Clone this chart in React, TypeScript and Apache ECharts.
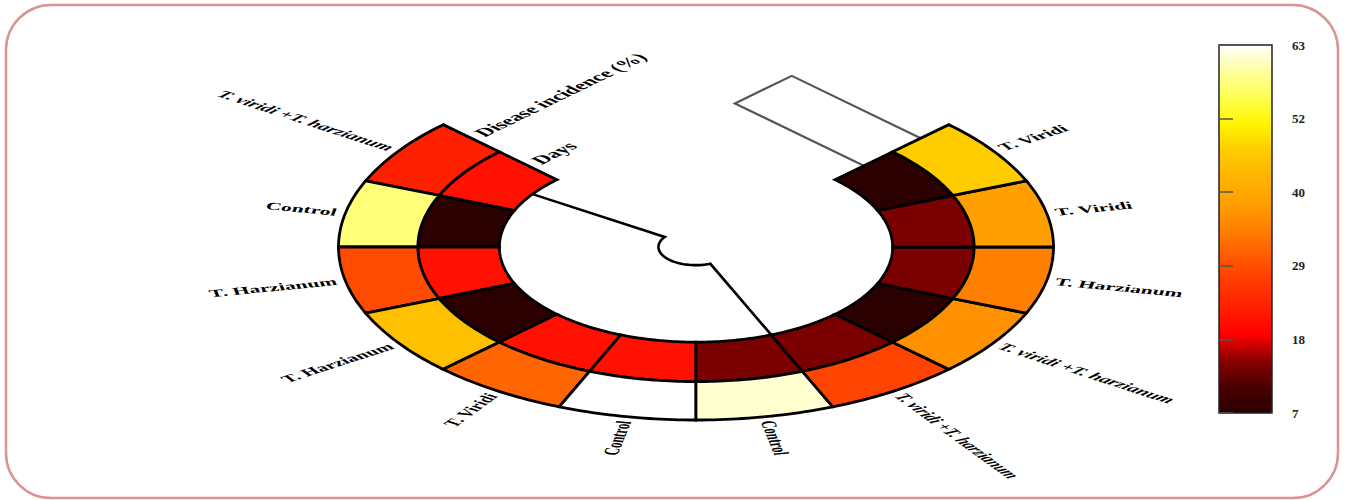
import React, { useEffect, useRef } from "react";
import * as echarts from "echarts";

// Treatments around the ring, in drawing order (counter-clockwise from the upper left)
const treatments = [
  "T. viridi +T. harzianum",
  "Control",
  "T. Harzianum",
  "T. Harzianum",
  "T. Viridi",
  "Control",
  "Control",
  "T. viridi +T. harzianum",
  "T. viridi +T. harzianum",
  "T. Harzianum",
  "T. Viridi",
  "T. Viridi",
];

// Outer track
const diseaseIncidence = [23, 57, 29, 45, 32, 63, 61, 28, 37, 35, 39, 47];
// Inner track
const days = [21, 7, 21, 7, 21, 21, 14, 14, 7, 14, 14, 7];

const trackNames = ["Days", "Disease incidence (%)"];
const scaleTickLabels = ["7", "18", "29", "40", "52", "63"];

const heatColors = [
  "#2b0000", "#4a0000", "#8b0000", "#ff0000", "#ff2000", "#ff3a00", "#ff5c00",
  "#ff8000", "#ffa000", "#ffb400", "#ffcc00", "#fff500", "#ffff50", "#ffffa0", "#ffffff",
];

const START_ANGLE = 135; // degrees, counter-clockwise from +x
const SPAN = 270;
const RING_EDGES = [0.55, 0.778, 1];
const FONT = '"Liberation Serif", "Times New Roman", serif';

const step = SPAN / treatments.length;

function polar(r: number, deg: number): number[] {
  const a = (deg * Math.PI) / 180;
  return [r * Math.cos(a), r * Math.sin(a)];
}

function stretchOf(api: any): number {
  const o = api.coord([0, 0]);
  const px = api.coord([1, 0]);
  const py = api.coord([0, 1]);
  return (px[0] - o[0]) / (o[1] - py[1]);
}

const cellData: number[][] = [];
days.forEach((v, i) => cellData.push([i, 0, v]));
diseaseIncidence.forEach((v, i) => cellData.push([i, 1, v]));

function renderCell(_params: any, api: any) {
  const i = api.value(0);
  const k = api.value(1);
  const a0 = START_ANGLE + step * i;
  const a1 = a0 + step;
  const r0 = RING_EDGES[k];
  const r1 = RING_EDGES[k + 1];
  const n = 24;
  const pts: number[][] = [];
  for (let s = 0; s <= n; s++) pts.push(api.coord(polar(r1, a0 + ((a1 - a0) * s) / n)));
  for (let s = n; s >= 0; s--) pts.push(api.coord(polar(r0, a0 + ((a1 - a0) * s) / n)));
  return {
    type: "polygon",
    shape: { points: pts },
    style: { fill: api.visual("color"), stroke: "#000", lineWidth: 2.8, lineJoin: "miter" },
  };
}

function renderSectorLabel(params: any, api: any) {
  const i = params.dataIndex;
  const name = treatments[i];
  const mid = START_ANGLE + step * (i + 0.5);
  const [px, py] = api.coord(polar(1.025, mid));
  const rad = (mid * Math.PI) / 180;
  const right = Math.cos(rad) > 0;
  return {
    type: "group",
    x: px,
    y: py,
    scaleX: stretchOf(api),
    children: [
      {
        type: "text",
        rotation: right ? rad : rad - Math.PI,
        style: {
          text: name,
          x: 0,
          y: 0,
          align: right ? "left" : "right",
          verticalAlign: "middle",
          fontFamily: FONT,
          fontWeight: "bold",
          fontStyle: name.indexOf("+") >= 0 ? "italic" : "normal",
          fontSize: 10.5,
          fill: "#000",
        },
      },
    ],
  };
}

function renderTrackLabel(params: any, api: any) {
  const k = params.dataIndex;
  const rMid = (RING_EDGES[k] + RING_EDGES[k + 1]) / 2;
  const base = polar(rMid, START_ANGLE);
  const t = (START_ANGLE * Math.PI) / 180;
  const dir = [Math.sin(t), -Math.cos(t)];
  const [px, py] = api.coord([base[0] + 0.03 * dir[0], base[1] + 0.03 * dir[1]]);
  return {
    type: "group",
    x: px,
    y: py,
    scaleX: stretchOf(api),
    children: [
      {
        type: "text",
        rotation: Math.atan2(dir[1], dir[0]),
        style: {
          text: trackNames[k],
          x: 0,
          y: 0,
          align: "left",
          verticalAlign: "middle",
          fontFamily: FONT,
          fontWeight: "bold",
          fontSize: 12,
          fill: "#000",
        },
      },
    ],
  };
}

// Row dendrogram: two branches joined by an arc near the centre
const rowBranchPositions = [0.5, 7]; // in sector units from the start angle
const ROW_JOIN_R = 0.105;
// Column dendrogram: one leaf per track, leaving the end of the ring
const COL_LEAF_LEN = 0.51;

function renderTrees(_params: any, api: any) {
  const inner = RING_EDGES[0];
  const aA = START_ANGLE + step * rowBranchPositions[0];
  const aB = START_ANGLE + step * rowBranchPositions[1];
  const rowPts: number[][] = [api.coord(polar(inner, aA))];
  const n = 60;
  for (let s = 0; s <= n; s++) rowPts.push(api.coord(polar(ROW_JOIN_R, aA + ((aB - aA) * s) / n)));
  rowPts.push(api.coord(polar(inner, aB)));

  const end = START_ANGLE + SPAN;
  const te = (end * Math.PI) / 180;
  const tan = [-Math.sin(te), Math.cos(te)];
  const leaf = (k: number) => {
    const rm = (RING_EDGES[k] + RING_EDGES[k + 1]) / 2;
    const s0 = polar(rm, end);
    return [s0, [s0[0] + COL_LEAF_LEN * tan[0], s0[1] + COL_LEAF_LEN * tan[1]]];
  };
  const outer = leaf(1);
  const innerLeaf = leaf(0);
  const colPts = [outer[0], outer[1], innerLeaf[1], innerLeaf[0]].map((p) => api.coord(p));

  return {
    type: "group",
    children: [
      {
        type: "polyline",
        shape: { points: rowPts },
        style: { stroke: "#000", lineWidth: 2.6, fill: null },
      },
      {
        type: "polyline",
        shape: { points: colPts },
        style: { stroke: "#555", lineWidth: 2.2, fill: null },
      },
    ],
  };
}

const option: any = {
  animation: false,
  backgroundColor: "#fff",
  graphic: [
    {
      type: "rect",
      silent: true,
      shape: { x: 6, y: 5, width: 1332, height: 493, r: 45 },
      style: { fill: "none", stroke: "#d99494", lineWidth: 2.5 },
    },
  ],
  grid: [
    { left: 338.5, top: 74, width: 715, height: 346 },
    {
      left: 1219,
      top: 45,
      width: 53,
      height: 368,
      show: true,
      z: 6,
      backgroundColor: "transparent",
      borderColor: "#222",
      borderWidth: 1.5,
    },
  ],
  xAxis: [
    { type: "value", gridIndex: 0, min: -1, max: 1, show: false },
    { type: "value", gridIndex: 1, min: 0, max: 1, show: false },
  ],
  yAxis: [
    { type: "value", gridIndex: 0, min: -1, max: 1, show: false },
    {
      type: "value",
      gridIndex: 1,
      min: 0,
      max: 5,
      interval: 1,
      position: "right",
      z: 6,
      axisLine: { show: false },
      splitLine: { show: false },
      axisTick: { show: true, length: 14, lineStyle: { color: "#555", width: 1.5 } },
      axisLabel: {
        margin: 20,
        formatter: (v: number) => scaleTickLabels[v],
        fontFamily: FONT,
        fontWeight: "bold",
        fontSize: 13,
        color: "#222",
      },
    },
  ],
  visualMap: {
    type: "continuous",
    min: 7,
    max: 63,
    dimension: 2,
    seriesIndex: 0,
    orient: "vertical",
    left: 1219,
    top: 45,
    padding: 0,
    itemWidth: 53,
    itemHeight: 368,
    calculable: false,
    hoverLink: false,
    inRange: { color: heatColors },
  },
  series: [
    {
      type: "custom",
      name: "cells",
      xAxisIndex: 0,
      yAxisIndex: 0,
      data: cellData,
      renderItem: renderCell,
      clip: false,
      z: 2,
    },
    {
      type: "custom",
      name: "labels",
      xAxisIndex: 0,
      yAxisIndex: 0,
      data: treatments.map((_, i) => [i, 0]),
      renderItem: renderSectorLabel,
      clip: false,
      z: 3,
    },
    {
      type: "custom",
      name: "tracks",
      xAxisIndex: 0,
      yAxisIndex: 0,
      data: trackNames.map((_, k) => [k, 0]),
      renderItem: renderTrackLabel,
      clip: false,
      z: 3,
    },
    {
      type: "custom",
      name: "trees",
      xAxisIndex: 0,
      yAxisIndex: 0,
      data: [[0, 0]],
      renderItem: renderTrees,
      clip: false,
      z: 1,
    },
  ],
};

export default function App() {
  const ref = useRef<HTMLDivElement>(null);
  useEffect(() => {
    const chart = echarts.init(ref.current!, null, { renderer: "svg" });
    chart.setOption(option);
    return () => chart.dispose();
  }, []);
  return (
    <div
      ref={ref}
      style={{ position: "fixed", left: 0, top: 0, width: 1346, height: 500, background: "#fff" }}
    />
  );
}
